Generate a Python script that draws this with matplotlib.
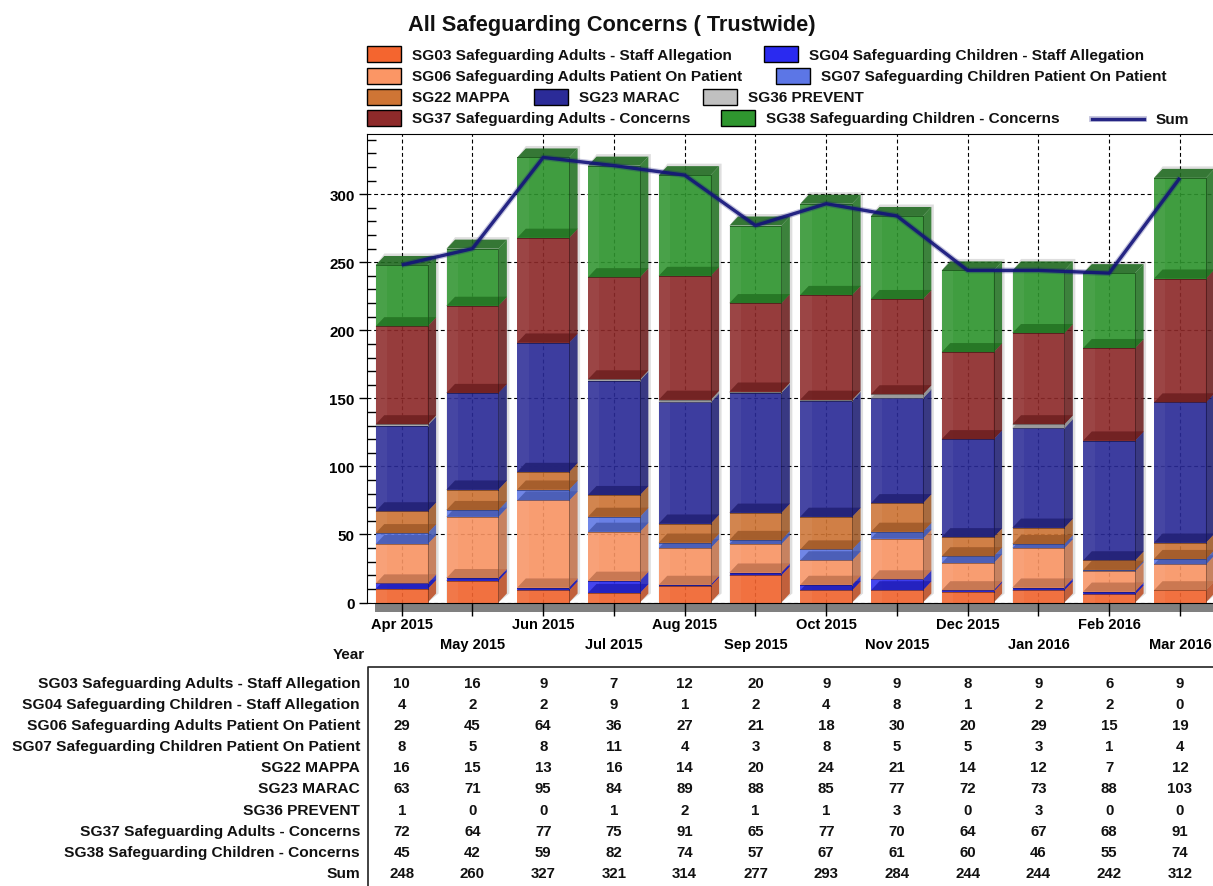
import numpy as np
import matplotlib
matplotlib.use('Agg')
import matplotlib.pyplot as plt
from matplotlib.patches import Polygon, Rectangle

W, H = 1213, 887

months = ['Apr 2015', 'May 2015', 'Jun 2015', 'Jul 2015', 'Aug 2015', 'Sep 2015',
          'Oct 2015', 'Nov 2015', 'Dec 2015', 'Jan 2016', 'Feb 2016', 'Mar 2016']

sg03 = [10, 16, 9, 7, 12, 20, 9, 9, 8, 9, 6, 9]
sg04 = [4, 2, 2, 9, 1, 2, 4, 8, 1, 2, 2, 0]
sg06 = [29, 45, 64, 36, 27, 21, 18, 30, 20, 29, 15, 19]
sg07 = [8, 5, 8, 11, 4, 3, 8, 5, 5, 3, 1, 4]
sg22 = [16, 15, 13, 16, 14, 20, 24, 21, 14, 12, 7, 12]
sg23 = [63, 71, 95, 84, 89, 88, 85, 77, 72, 73, 88, 103]
sg36 = [1, 0, 0, 1, 2, 1, 1, 3, 0, 3, 0, 0]
sg37 = [72, 64, 77, 75, 91, 65, 77, 70, 64, 67, 68, 91]
sg38 = [45, 42, 59, 82, 74, 57, 67, 61, 60, 46, 55, 74]
total = [248, 260, 327, 321, 314, 277, 293, 284, 244, 244, 242, 312]

names = ['SG03 Safeguarding Adults - Staff Allegation',
         'SG04 Safeguarding Children - Staff Allegation',
         'SG06 Safeguarding Adults Patient On Patient',
         'SG07 Safeguarding Children Patient On Patient',
         'SG22 MAPPA', 'SG23 MARAC', 'SG36 PREVENT',
         'SG37 Safeguarding Adults - Concerns',
         'SG38 Safeguarding Children - Concerns']
colors = ['#f4652f', '#2a2af0', '#fb9665', '#5c76e6', '#cf7535',
          '#2b2b98', '#c0c0c0', '#8e2a2a', '#2f962f']
series = [sg03, sg04, sg06, sg07, sg22, sg23, sg36, sg37, sg38]
line_color = '#14147a'

plt.rcParams['font.family'] = ['Liberation Sans', 'DejaVu Sans']
plt.rcParams['font.weight'] = 'bold'

# pixel geometry of the plot area
PX_LEFT, PX_TOP, PX_ZERO = 367.3, 135.3, 603.5
PX_X0, PX_STEP, PX_UNIT = 401.7, 70.75, 1.361
HALF = 25.9 / PX_STEP
DX = 8.5 / PX_STEP
DY = 9 / PX_UNIT


def shade(color, k):
    rgb = np.array(matplotlib.colors.to_rgb(color))
    return tuple(np.clip(rgb * k, 0, 1))


def draw_segment(ax, x, bottom, height, color):
    """ One 3d looking block of a stacked bar """
    x0, x1 = x - HALF, x + HALF
    top = bottom + height
    edge = shade(color, 0.55)
    ax.add_patch(Polygon([(x1, bottom), (x1 + DX, bottom + DY), (x1 + DX, top + DY), (x1, top)],
                         fc=shade(color, 0.78), ec='none', alpha=0.88, zorder=2))
    ax.add_patch(Rectangle((x0, bottom), 2 * HALF, height, fc=color, ec='none',
                           alpha=0.9, zorder=2))
    ax.add_patch(Rectangle((x0, bottom), 2 * HALF * 0.22, height, fc='white', ec='none',
                           alpha=0.05, zorder=2))
    # the block below shows through as a darker floor
    if bottom > 0:
        ax.add_patch(Polygon([(x0, bottom), (x1, bottom), (x1 + DX, bottom + DY), (x0 + DX, bottom + DY)],
                             fc=shade(color, 0.78), ec='none', alpha=0.85, zorder=2))
    ax.add_patch(Polygon([(x0, top), (x1, top), (x1 + DX, top + DY), (x0 + DX, top + DY)],
                         fc=shade(color, 0.72), ec='none', alpha=0.9, zorder=2))
    ax.plot([x0, x1, x1], [top, top, bottom], color=edge, lw=0.7, alpha=0.8, zorder=2)


fig = plt.figure(figsize=(W / 100, H / 100), dpi=100)

ax = fig.add_axes([PX_LEFT / W, 1 - PX_ZERO / H, (W - PX_LEFT) / W, (PX_ZERO - PX_TOP) / H])
ax.set_xlim((PX_LEFT - PX_X0) / PX_STEP, (W - PX_X0) / PX_STEP)
ax.set_ylim(0, (PX_ZERO - PX_TOP) / PX_UNIT)

xs = np.arange(len(months))
ax.set_axisbelow(True)
ax.grid(True, which='major', color='black', lw=0.8, ls=(0, (3.5, 2.5)))

ax.set_yticks(np.arange(0, 301, 50))
ax.set_yticks(np.arange(10, 341, 10), minor=True)
ax.tick_params(axis='y', which='major', length=6, width=1, direction='out', pad=3, labelsize=10.9)
ax.tick_params(axis='y', which='minor', length=6.5, width=1, direction='in')
ax.set_xticks(xs, months)
ax.tick_params(axis='x', length=9.5, width=1, direction='out', labelsize=10.5)
for i, tick in enumerate(ax.xaxis.get_major_ticks()):
    tick.set_pad(1.2 if i % 2 == 0 else 15.5)
ax.spines['right'].set_visible(False)

# grey floor under the bars
ax.add_patch(Rectangle((-0.376, -DY), 13, DY, fc='#808080', ec='none', clip_on=False, zorder=0.4))

for x, height_sum in zip(xs, total):
    # soft shadow behind the bar
    x1 = x + HALF + DX + 2.5 / PX_STEP
    yt = height_sum + DY + 2.5 / PX_UNIT
    ax.add_patch(Polygon([(x - HALF, height_sum), (x - HALF + DX, yt), (x1, yt), (x1, DY), (x + HALF, 0),
                          (x - HALF, 0)], fc='#000000', ec='none', alpha=0.13, zorder=1.5))
    bottom = 0
    for values, color in zip(series, colors):
        value = values[x]
        if value > 0:
            draw_segment(ax, x, bottom, value, color)
        bottom += value

ax.plot(xs, total, color=line_color, lw=4.2, alpha=0.25, zorder=3, solid_capstyle='butt')
ax.plot(xs, total, color=line_color, lw=2.4, alpha=0.9, zorder=3.1, solid_capstyle='butt')

# everything outside the plot is placed in pixel coordinates
px = fig.add_axes([0, 0, 1, 1], facecolor='none')
px.set_xlim(0, W)
px.set_ylim(H, 0)
px.axis('off')

px.text(408, 25, 'All Safeguarding Concerns ( Trustwide)', fontsize=15.7, va='center', color='#111111')

legend_rows = [(55, [(367, 0), (764, 1)]),
               (76.5, [(367, 2), (776, 3)]),
               (97.5, [(367, 4), (534, 5), (703, 6)]),
               (118.5, [(367, 7), (721, 8)])]
for y, entries in legend_rows:
    for x, idx in entries:
        px.add_patch(Rectangle((x + 1, y - 7), 34, 16, fc='#cccccc', ec='none'))
        px.add_patch(Rectangle((x, y - 8), 34, 16, fc=colors[idx], ec='black', lw=1))
        px.text(x + 45, y + 1, names[idx], fontsize=11.05, va='center', color='#111111')
px.plot([1092, 1144], [120, 120], color=line_color, lw=4.2, alpha=0.25)
px.plot([1092, 1144], [120, 120], color=line_color, lw=2.4, alpha=0.9)
px.text(1156, 119.5, 'Sum', fontsize=11.05, va='center', color='#111111')

# data table below the chart
px.plot([W, 367.5, 367.5], [668, 668, H], color='#222222', lw=1.2)
px.text(365, 655.5, 'Year', fontsize=11, ha='right', va='center', color='#111111')

row_y = [683, 704, 725, 746, 767, 788, 810, 831, 852, 873]
row_names = names + ['Sum']
rows = series + [total]
for y, name, values in zip(row_y, row_names, rows):
    px.text(360, y + 1, name, fontsize=11.15, ha='right', va='center', color='#111111')
    for x, value in zip(xs, values):
        px.text(PX_X0 + PX_STEP * x, y + 1, str(value), fontsize=10.8, ha='center', va='center',
                color='#111111')

fig.savefig('out.png', dpi=100)
